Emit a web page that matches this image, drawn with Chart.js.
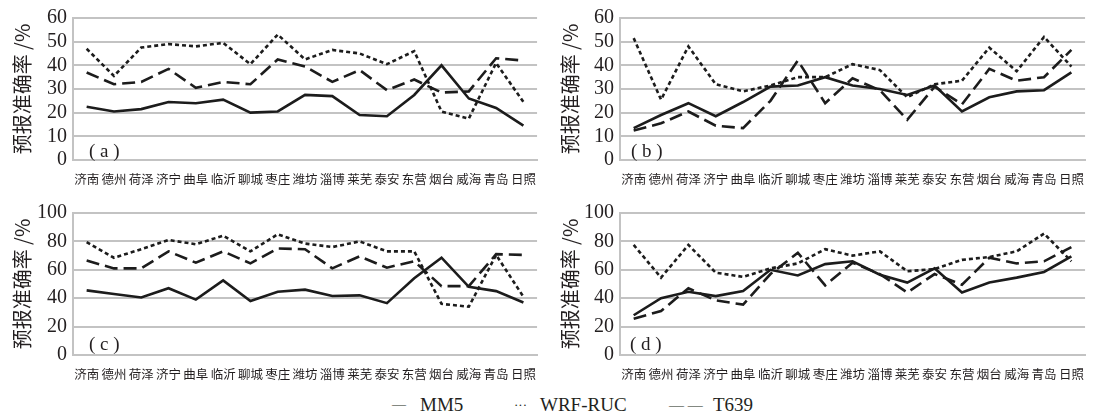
<!DOCTYPE html>
<html><head><meta charset="utf-8">
<script src="https://cdn.jsdelivr.net/npm/chart.js@4"></script>
<style>
body{margin:0;background:#fff;width:1096px;height:420px;position:relative;overflow:hidden;}
.p{position:absolute;width:548px;height:195px;}
.lab{position:absolute;font-family:"Liberation Serif";font-size:19px;color:#231f20;line-height:19px;white-space:pre;}
.leg{position:absolute;top:395px;font-family:"Liberation Serif";font-size:19px;color:#231f20;white-space:pre;line-height:20px;}
</style></head><body>
<div class="p" style="left:0;top:0"><canvas id="ca" width="548" height="195"></canvas></div>
<div class="p" style="left:548px;top:0"><canvas id="cb" width="548" height="195"></canvas></div>
<div class="p" style="left:0;top:195px"><canvas id="cc" width="548" height="195"></canvas></div>
<div class="p" style="left:548px;top:195px"><canvas id="cd" width="548" height="195"></canvas></div>
<div class="lab" style="left:89px;top:141px">( a )</div>
<div class="lab" style="left:631px;top:141px">( b )</div>
<div class="lab" style="left:89px;top:334px">( c )</div>
<div class="lab" style="left:630px;top:334px">( d )</div>
<div class="leg" style="left:392px;font-size:14px">—</div>
<div class="leg" style="left:420px">MM5</div>
<div class="leg" style="left:514px;font-size:13px">···</div>
<div class="leg" style="left:540px">WRF-RUC</div>
<div class="leg" style="left:669px;font-size:15px">— —</div>
<div class="leg" style="left:713px">T639</div>
<script>
const categories = ['济南','德州','荷泽','济宁','曲阜','临沂','聊城','枣庄','潍坊','淄博','莱芜','泰安','东营','烟台','威海','青岛','日照'];
const seriesNames = ['MM5','WRF-RUC','T639'];
const yAxisTitle = '预报准确率 /%';

const mm5A  = [22.5,20.5,21.5,24.5,24,25.5,20,20.5,27.5,27,19,18.5,27.5,40,26,22,14.5];
const wrfA  = [47,35.5,47.5,49,48,49.5,40.5,53,42.5,46.5,45,40.5,46,20.5,17.5,41,24.5];
const t639A = [37,32,33,38.5,30.5,33,32,42.5,39.5,33,38,29.5,34,28.5,29,43,42];

const mm5B  = [13.5,19,24,18.5,24.5,31,31.5,35,31.5,30,27.5,31.5,20.5,26.5,29,29.5,37];
const wrfB  = [51.5,25.5,48,32,29,31.5,35,35,40.5,38,26.5,32,33.5,47.5,37.5,52,39.5];
const t639B = [12.5,15.5,20.5,14.5,13.5,25,42,24,34.5,29.5,17,31,23.5,38.5,33.5,35,46.5];

const mm5C  = [45.5,43,40.5,47,39,52.5,38,44.5,46,41.5,42,36.5,54,68.5,48,45,37];
const wrfC  = [79.5,68.5,74.5,81,78,84,73,85,78.5,76,80,73,73,36,34,70.5,41];
const t639C = [66.5,61,61,73,65,73,64.5,75,74.5,61,69.5,61.5,66,48.5,48.5,71,70.5];

const mm5D  = [28,40,44.5,41.5,45,60,56,64,66,56.5,51,61,44,51,54.5,58.5,69.5];
const wrfD  = [77.5,54.5,77.5,58,55,61,64.5,74.5,70,73,59,60.5,67,69,73,85.5,66];
const t639D = [25.5,31,47,38.5,35.5,57,72,49,65,57,44,57,49.5,68.5,64.5,66,76];

const yTicksTop = [0,10,20,30,40,50,60];
const yTicksBottom = [0,20,40,60,80,100];

function makeChart(id, mm5, wrf, t639, ticks, yW, padR) {
  const ink = '#1c1c1c';
  const grid = '#c3c3c3';
  new Chart(document.getElementById(id), {
    type: 'line',
    data: {
      labels: categories,
      datasets: [
        {label: seriesNames[0], data: mm5, borderColor: ink, borderWidth: 2.6, pointRadius: 0, tension: 0, fill: false},
        {label: seriesNames[1], data: wrf, borderColor: ink, borderWidth: 2.6, borderDash: [4,3], pointRadius: 0, tension: 0, fill: false},
        {label: seriesNames[2], data: t639, borderColor: ink, borderWidth: 2.6, borderDash: [13,6], pointRadius: 0, tension: 0, fill: false}
      ]
    },
    options: {
      responsive: false,
      animation: false,
      layout: {padding: {top: 9, right: padR, left: 0, bottom: 0}},
      plugins: {legend: {display: false}, tooltip: {enabled: false}},
      scales: {
        x: {
          offset: true,
          grid: {display: false, drawTicks: false},
          border: {display: true, color: grid, width: 2},
          ticks: {autoSkip: false, maxRotation: 0, minRotation: 0, padding: 12, color: '#231f20',
                  font: {family: '"Noto Sans CJK SC"', size: 12.5}},
          afterFit: s => { s.height = 35; }
        },
        y: {
          min: ticks[0], max: ticks[ticks.length-1],
          afterBuildTicks: s => { s.ticks = ticks.map(v => ({value: v})); },
          grid: {color: grid, lineWidth: 2, drawTicks: false},
          border: {display: true, color: grid, width: 2},
          ticks: {autoSkip: false, padding: 6, color: '#231f20', font: {family: '"Liberation Serif"', size: 20}},
          title: {display: true, text: yAxisTitle, color: '#231f20', padding: {top: 10, bottom: 0},
                  font: {family: '"Noto Sans CJK SC"', size: 20}},
          afterFit: s => { s.width = yW; }
        }
      }
    }
  });
}
makeChart('ca', mm5A, wrfA, t639A, yTicksTop, 73, 3);
makeChart('cb', mm5B, wrfB, t639B, yTicksTop, 72, 4);
makeChart('cc', mm5C, wrfC, t639C, yTicksBottom, 73, 3);
makeChart('cd', mm5D, wrfD, t639D, yTicksBottom, 72, 4);
</script>
</body></html>
